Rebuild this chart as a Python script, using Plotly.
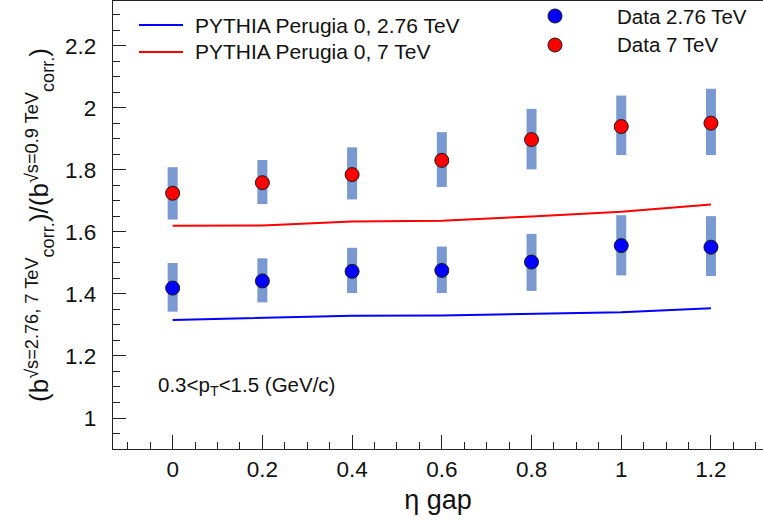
import plotly.graph_objects as go

# eta-gap bins
eta = [0.0, 0.2, 0.4, 0.6, 0.8, 1.0, 1.2]

# ratio b_corr(sqrt(s)) / b_corr(0.9 TeV), data
data_276 = [1.419, 1.442, 1.473, 1.476, 1.503, 1.556, 1.551]
sys_276_lo = [1.343, 1.373, 1.403, 1.403, 1.410, 1.460, 1.458]
sys_276_hi = [1.500, 1.515, 1.549, 1.553, 1.594, 1.654, 1.651]

data_7 = [1.725, 1.759, 1.785, 1.831, 1.898, 1.940, 1.951]
sys_7_lo = [1.640, 1.690, 1.705, 1.745, 1.802, 1.848, 1.848]
sys_7_hi = [1.809, 1.832, 1.873, 1.922, 1.997, 2.040, 2.062]

# PYTHIA Perugia 0 predictions
pythia_276 = [1.316, 1.323, 1.330, 1.331, 1.336, 1.341, 1.354]
pythia_7 = [1.620, 1.621, 1.634, 1.636, 1.650, 1.665, 1.689]

x_ticks = [0.0, 0.2, 0.4, 0.6, 0.8, 1.0, 1.2]
x_ticktext = ["0", "0.2", "0.4", "0.6", "0.8", "1", "1.2"]
y_ticks = [1.0, 1.2, 1.4, 1.6, 1.8, 2.0, 2.2]
y_ticktext = ["1", "1.2", "1.4", "1.6", "1.8", "2", "2.2"]

legend_lines = ["PYTHIA Perugia 0, 2.76 TeV", "PYTHIA Perugia 0, 7 TeV"]
legend_points = ["Data 2.76 TeV", "Data 7 TeV"]

FONT = "Liberation Sans, Arial, sans-serif"
SYS_COLOR = "rgb(122,153,208)"
BLUE = "#0000ff"
RED = "#ff0000"
AXIS = "#222222"
TEXT = "#111111"

W, H = 763, 523
ML, MR, MT, MB = 113, 0, 1, 74
PW, PH = W - ML - MR, H - MT - MB


def px_x(p):
    return (p - ML) / PW


def px_y(p):
    return (H - MB - p) / PH


fig = go.Figure()

# systematic-uncertainty boxes
for lo, hi in ((sys_276_lo, sys_276_hi), (sys_7_lo, sys_7_hi)):
    fig.add_trace(go.Bar(
        x=eta, base=lo, y=[h - l for h, l in zip(hi, lo)], width=0.0223,
        marker=dict(color=SYS_COLOR, line=dict(width=0)),
        showlegend=False, hoverinfo="skip",
    ))

# model curves
fig.add_trace(go.Scatter(x=eta, y=pythia_276, mode="lines",
                         line=dict(color=BLUE, width=2), showlegend=False))
fig.add_trace(go.Scatter(x=eta, y=pythia_7, mode="lines",
                         line=dict(color=RED, width=2), showlegend=False))

# data points
fig.add_trace(go.Scatter(x=eta, y=data_276, mode="markers",
                         marker=dict(color=BLUE, size=14, line=dict(color="#1a1a1a", width=1)),
                         showlegend=False))
fig.add_trace(go.Scatter(x=eta, y=data_7, mode="markers",
                         marker=dict(color=RED, size=14, line=dict(color="#1a1a1a", width=1)),
                         showlegend=False))

# legend block: model lines (left) and data markers (right)
shapes = []
annotations = []
for label, color, ypx in zip(legend_lines, [BLUE, RED], [25, 52]):
    shapes.append(dict(type="line", xref="paper", yref="paper",
                       x0=px_x(139), x1=px_x(183), y0=px_y(ypx), y1=px_y(ypx),
                       line=dict(color=color, width=2)))
    annotations.append(dict(text=label, xref="paper", yref="paper",
                            x=px_x(193), y=px_y(ypx), xanchor="left", yanchor="middle",
                            showarrow=False, font=dict(family=FONT, size=21, color=TEXT)))
for label, color, ypx in zip(legend_points, [BLUE, RED], [16, 45]):
    shapes.append(dict(type="circle", xref="paper", yref="paper",
                       xsizemode="pixel", ysizemode="pixel",
                       xanchor=px_x(555), yanchor=px_y(ypx),
                       x0=-7, x1=7, y0=-7, y1=7,
                       fillcolor=color, line=dict(color="#1a1a1a", width=1)))
    annotations.append(dict(text=label, xref="paper", yref="paper",
                            x=px_x(615), y=px_y(ypx), xanchor="left", yanchor="middle",
                            showarrow=False, font=dict(family=FONT, size=20.5, color=TEXT)))

annotations.append(dict(text="0.3&lt;p<sub>T</sub>&lt;1.5 (GeV/c)", xref="paper", yref="paper",
                        x=px_x(156), y=px_y(386), xanchor="left", yanchor="middle",
                        showarrow=False, font=dict(family=FONT, size=20.5, color=TEXT)))

fig.update_layout(
    width=W, height=H,
    margin=dict(l=ML, r=MR, t=MT, b=MB),
    paper_bgcolor="white", plot_bgcolor="white",
    barmode="overlay",
    showlegend=False,
    shapes=shapes, annotations=annotations,
    font=dict(family=FONT, color=TEXT),
)

fig.update_xaxes(
    range=[-0.133, 1.316],
    tickmode="array", tickvals=x_ticks, ticktext=x_ticktext,
    ticks="inside", ticklen=14, tickwidth=1.3, tickcolor=AXIS,
    minor=dict(tickmode="linear", tick0=0, dtick=0.05, ticks="inside", ticklen=7,
               tickwidth=1.3, tickcolor=AXIS),
    showline=True, linecolor=AXIS, linewidth=1.3, mirror=True,
    showgrid=False, zeroline=False,
    tickfont=dict(family=FONT, size=22.5, color=TEXT),
    title=dict(text="η gap", font=dict(family=FONT, size=27, color=TEXT), standoff=8),
)
fig.update_yaxes(
    range=[0.9, 2.345],
    tickmode="array", tickvals=y_ticks, ticktext=y_ticktext,
    ticks="inside", ticklen=13, tickwidth=1.3, tickcolor=AXIS,
    minor=dict(tickmode="linear", tick0=0, dtick=0.05, ticks="inside", ticklen=7,
               tickwidth=1.3, tickcolor=AXIS),
    showline=True, linecolor=AXIS, linewidth=1.3, mirror=False,
    showgrid=False, zeroline=False,
    ticklabelstandoff=11,
    tickfont=dict(family=FONT, size=22.5, color=TEXT),
    title=dict(text="(b<sup>√s=2.76, 7 TeV</sup><sub>corr.</sub>)/(b<sup>√s=0.9 TeV</sup><sub>corr.</sub>)",
               font=dict(family=FONT, size=26, color=TEXT), standoff=8),
)

fig.write_html("out.html")
